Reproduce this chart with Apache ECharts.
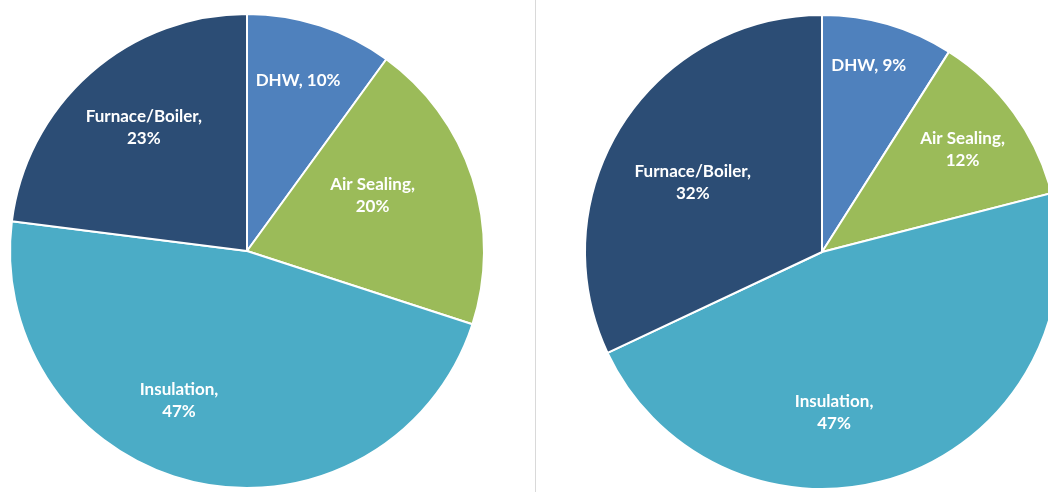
<!DOCTYPE html>
<html>
<head>
<meta charset="utf-8">
<script src="https://cdn.jsdelivr.net/npm/echarts@6/dist/echarts.min.js"></script>
<style>
  html, body { margin: 0; padding: 0; background: #ffffff; }
  #chart { width: 1048px; height: 492px; }
</style>
</head>
<body>
<div id="chart"></div>
<script>
// Share of measures, two program scenarios
const categories = ['DHW', 'Air Sealing', 'Insulation', 'Furnace/Boiler'];
const leftShares = [10, 20, 47, 23];
const rightShares = [9, 12, 47, 32];

// Names that keep their percentage on the same line
const singleLineNames = ['DHW'];

const sliceColors = ['#4F81BD', '#9BBB59', '#4BACC6', '#2C4D75'];

// Pie geometry (pixels)
const R = 237;
const leftCenter = [247, 251];
const rightCenter = [822, 252];

// Label placement per slice: [bearing in degrees clockwise from 12 o'clock, fraction of radius]
const leftLabelSpots = [[16.7, 0.75], [66, 0.58], [204.4, 0.695], [320.2, 0.68]];
const rightLabelSpots = [[14.1, 0.81], [53.8, 0.735], [175.7, 0.68], [298.4, 0.62]];

function buildData(values) {
  return categories.map((name, i) => ({
    name: name,
    value: values[i],
    itemStyle: { color: sliceColors[i] }
  }));
}

function labelText(p) {
  const sep = singleLineNames.indexOf(p.name) >= 0 ? ', ' : ',\n';
  return p.name + sep + p.value + '%';
}

function makePie(values, center, spots) {
  return {
    type: 'pie',
    center: center,
    radius: [0, R],
    startAngle: 90,
    clockwise: true,
    avoidLabelOverlap: false,
    silent: true,
    animation: false,
    itemStyle: { borderColor: '#ffffff', borderWidth: 2 },
    label: {
      show: true,
      position: 'inside',
      formatter: labelText,
      color: '#ffffff',
      fontFamily: 'Lato',
      fontWeight: 'bold',
      fontSize: 17,
      lineHeight: 22,
      align: 'center'
    },
    labelLine: { show: false },
    labelLayout: function (params) {
      const s = spots[params.dataIndex];
      const a = s[0] * Math.PI / 180;
      return {
        x: center[0] + Math.sin(a) * R * s[1],
        y: center[1] - Math.cos(a) * R * s[1],
        align: 'center',
        verticalAlign: 'middle'
      };
    },
    emphasis: { disabled: true },
    data: buildData(values)
  };
}

const chart = echarts.init(document.getElementById('chart'), null, { renderer: 'canvas' });
chart.setOption({
  backgroundColor: '#ffffff',
  animation: false,
  graphic: [{
    type: 'line',
    shape: { x1: 535.5, y1: 0, x2: 535.5, y2: 492 },
    style: { stroke: '#d9d9d9', lineWidth: 1 },
    silent: true
  }],
  series: [
    makePie(leftShares, leftCenter, leftLabelSpots),
    makePie(rightShares, rightCenter, rightLabelSpots)
  ]
});
</script>
</body>
</html>
